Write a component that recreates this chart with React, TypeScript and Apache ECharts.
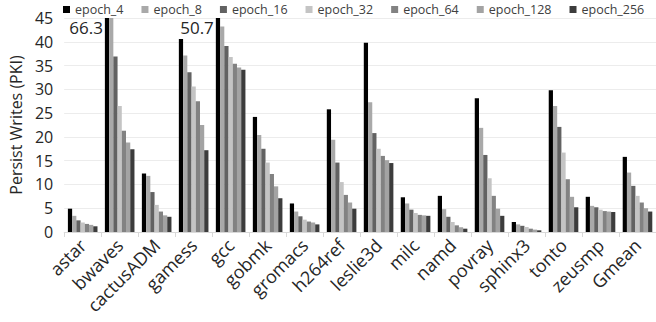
import React, { useEffect, useRef } from "react";
import * as echarts from "echarts";

const categories = ["astar", "bwaves", "cactusADM", "gamess", "gcc", "gobmk", "gromacs", "h264ref", "leslie3d", "milc", "namd", "povray", "sphinx3", "tonto", "zeusmp", "Gmean"];
const seriesNames = ["epoch_4", "epoch_8", "epoch_16", "epoch_32", "epoch_64", "epoch_128", "epoch_256"];
const epoch4 = [4.9, 66.3, 12.3, 40.6, 50.7, 24.2, 6.0, 25.8, 39.8, 7.3, 7.6, 28.1, 2.1, 29.8, 7.4, 15.8];
const epoch8 = [3.4, 46.0, 11.8, 37.1, 43.2, 20.4, 4.3, 19.4, 27.3, 6.0, 4.8, 21.9, 1.6, 26.5, 5.5, 12.5];
const epoch16 = [2.45, 36.9, 8.4, 33.6, 39.1, 17.5, 3.3, 14.6, 20.8, 4.7, 3.2, 16.2, 1.3, 22.1, 5.2, 9.7];
const epoch32 = [2.0, 26.5, 5.7, 30.6, 36.8, 14.6, 2.6, 10.5, 17.5, 4.0, 2.1, 11.3, 1.05, 16.7, 4.7, 7.6];
const epoch64 = [1.7, 21.3, 4.3, 27.5, 35.4, 12.2, 2.2, 7.8, 16.0, 3.6, 1.4, 7.6, 0.7, 11.1, 4.4, 6.2];
const epoch128 = [1.5, 18.8, 3.5, 22.5, 34.6, 9.6, 2.0, 6.2, 15.1, 3.5, 1.0, 4.9, 0.5, 7.4, 4.3, 5.0];
const epoch256 = [1.2, 17.4, 3.2, 17.2, 34.1, 7.1, 1.6, 4.9, 14.5, 3.4, 0.7, 3.4, 0.35, 5.2, 4.2, 4.3];
const seriesValues = [epoch4, epoch8, epoch16, epoch32, epoch64, epoch128, epoch256];
const colors = ["#000000", "#a9a9a9", "#626262", "#c4c4c4", "#828282", "#a3a3a3", "#3c3c3c"];
const yTicks = [0, 5, 10, 15, 20, 25, 30, 35, 40, 45];
const yMax = 45;
const FONT = "'Open Sans', 'Noto Sans', sans-serif";

export default function App() {
  const ref = useRef<HTMLDivElement>(null);
  useEffect(() => {
    if (!ref.current) return;
    const chart = echarts.init(ref.current, null, { renderer: "svg" });
    const series = seriesNames.map((name, si) => ({
      name,
      type: "bar",
      barGap: "0%",
      barCategoryGap: "20%",
      itemStyle: { color: colors[si] },
      data: seriesValues[si].map((v) => {
        if (v > yMax && si === 0) {
          return {
            value: yMax,
            label: {
              show: true,
              formatter: String(v),
              position: [-2, 1],
              align: "right",
              verticalAlign: "top",
              fontSize: 17,
              fontFamily: FONT,
              color: "#262626",
            },
          };
        }
        return Math.min(v, yMax);
      }),
    }));
    chart.setOption({
      animation: false,
      color: colors,
      textStyle: { fontFamily: FONT },
      legend: {
        data: seriesNames,
        top: -2,
        left: 58,
        width: 640,
        itemWidth: 7,
        itemHeight: 7,
        itemGap: 18,
        icon: "rect",
        textStyle: { fontSize: 12.5, color: "#404040", fontFamily: FONT },
      },
      grid: { left: 62, top: 18, width: 603, height: 214, containLabel: false },
      xAxis: {
        type: "category",
        data: categories,
        axisLine: { lineStyle: { color: "#d9d9d9" } },
        axisTick: { show: true, length: 5, lineStyle: { color: "#d9d9d9" } },
        axisLabel: { rotate: 45, fontSize: 18, color: "#262626", fontFamily: FONT, margin: 10, interval: 0 },
      },
      yAxis: {
        type: "value",
        min: yTicks[0],
        max: yTicks[yTicks.length - 1],
        interval: yTicks[1] - yTicks[0],
        name: "Persist Writes (PKI)",
        nameLocation: "middle",
        nameGap: 38,
        nameTextStyle: { fontSize: 16, color: "#262626", fontFamily: FONT },
        axisLine: { show: false },
        axisTick: { show: false },
        axisLabel: { fontSize: 16, color: "#262626", fontFamily: FONT, margin: 11 },
        splitLine: { lineStyle: { color: "#ececec" } },
      },
      series,
    });
    return () => chart.dispose();
  }, []);
  return (
    <div
      ref={ref}
      style={{ position: "fixed", left: 0, top: 0, width: 656, height: 322, background: "#fff" }}
    />
  );
}
